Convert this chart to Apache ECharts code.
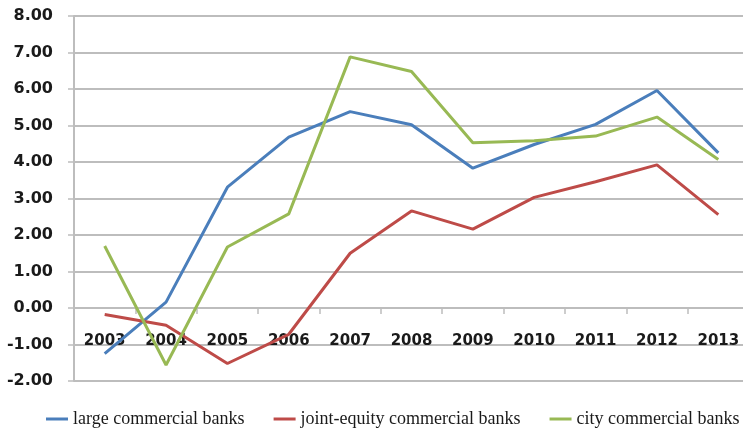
<!DOCTYPE html>
<html>
<head>
<meta charset="utf-8">
<script src="https://cdn.jsdelivr.net/npm/echarts@6/dist/echarts.min.js"></script>
<style>
  html, body { margin: 0; padding: 0; background: #fff; }
  #chart { width: 743px; height: 429px; }
</style>
</head>
<body>
<div id="chart"></div>
<script>
// Years on the category axis
const years = ['2003', '2004', '2005', '2006', '2007', '2008', '2009', '2010', '2011', '2012', '2013'];

// Series values by bank type
const largeBanks = [-1.25, 0.16, 3.31, 4.68, 5.38, 5.02, 3.83, 4.48, 5.03, 5.96, 4.25];
const jointEquityBanks = [-0.18, -0.47, -1.52, -0.72, 1.50, 2.66, 2.16, 3.03, 3.46, 3.92, 2.56];
const cityBanks = [1.70, -1.56, 1.67, 2.58, 6.88, 6.48, 4.53, 4.58, 4.71, 5.23, 4.07];

// Value axis range
const yMin = -2, yMax = 8, yStep = 1;

const gridGray = '#bdbdbd';
const gridTop = 16, gridHeight = 365;
// The category axis sits on the zero line, so it is lifted from the bottom edge
const zeroOffset = -gridHeight * (0 - yMin) / (yMax - yMin);

const chart = echarts.init(document.getElementById('chart'), null, { renderer: 'canvas' });

function lineSeries(name, data, color) {
  return {
    name: name,
    type: 'line',
    data: data,
    symbol: 'none',
    smooth: false,
    z: 5,
    lineStyle: { width: 3, color: color },
    itemStyle: { color: color }
  };
}

chart.setOption({
  animation: false,
  backgroundColor: '#ffffff',
  grid: {
    left: 74, width: 675, top: gridTop, height: gridHeight,
    containLabel: false, outerBoundsMode: 'none'
  },
  legend: {
    top: 410,
    left: 46,
    width: 697,
    padding: 0,
    itemWidth: 22,
    itemHeight: 3,
    itemGap: 29,
    icon: 'rect',
    textStyle: { fontFamily: 'Liberation Serif', fontSize: 18, color: '#1a1a1a' },
    data: ['large commercial banks', 'joint-equity commercial banks', 'city commercial banks']
  },
  xAxis: {
    type: 'category',
    data: years,
    boundaryGap: true,
    offset: zeroOffset,
    axisLine: { onZero: false, lineStyle: { color: gridGray, width: 2 } },
    axisTick: { show: true, interval: 0, length: 6, lineStyle: { color: gridGray, width: 1.5 } },
    axisLabel: {
      margin: 26, interval: 0,
      fontFamily: 'DejaVu Sans', fontWeight: 'bold', fontSize: 15, color: '#1a1a1a'
    }
  },
  yAxis: {
    type: 'value',
    min: yMin,
    max: yMax,
    interval: yStep,
    axisLine: { show: true, lineStyle: { color: gridGray, width: 2 } },
    axisTick: { show: true, length: 6, lineStyle: { color: gridGray, width: 1.5 } },
    splitLine: { show: true, lineStyle: { color: gridGray, width: 2 } },
    axisLabel: {
      margin: 21, formatter: v => v.toFixed(2),
      fontFamily: 'DejaVu Sans', fontWeight: 'bold', fontSize: 16, color: '#1a1a1a'
    }
  },
  series: [
    lineSeries('large commercial banks', largeBanks, '#4a7ebb'),
    lineSeries('joint-equity commercial banks', jointEquityBanks, '#be4b48'),
    lineSeries('city commercial banks', cityBanks, '#98b954')
  ]
});
</script>
</body>
</html>
